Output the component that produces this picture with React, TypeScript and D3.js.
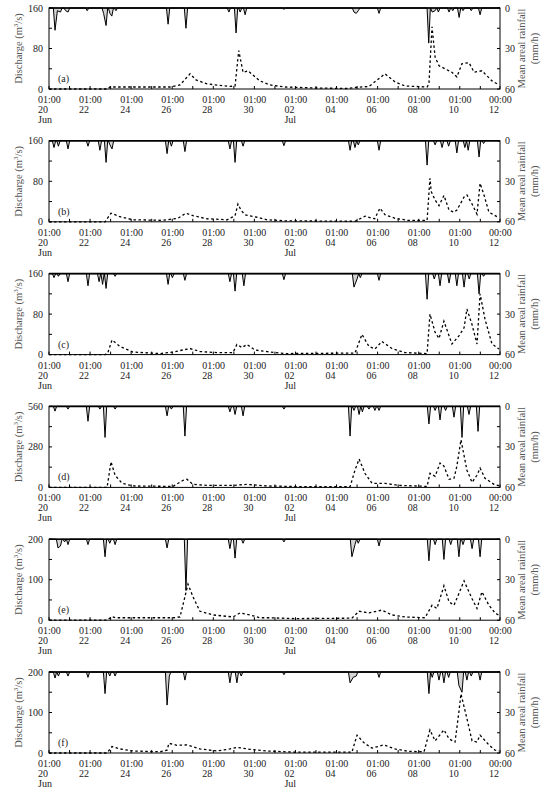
import React from 'react';
import * as d3 from 'd3';

// time in days from 20 Jun 00:00 (01:00 20 Jun = 1/24, 00:00 12 Jul = 22)
const panelLabels = ['(a)', '(b)', '(c)', '(d)', '(e)', '(f)'];
const dischargeMax = [160, 160, 160, 560, 200, 200];
const rainTicks = [0, 15, 30, 45, 60];
const rainTickLabels = [0, 30, 60];

const dayTickLabels = ['20', '22', '24', '26', '28', '30', '02', '04', '06', '08', '10'];
const monthLabels = [{ i: 0, text: 'Jun' }, { i: 6, text: 'Jul' }];

// discharge [day, m3/s]
const dischargeA = [[0.042,0],[2.91,0],[3.01,4],[5.93,4],[6.42,8],[6.91,30],[7.2,18],[7.74,10],[8.86,5],[9.1,6],[9.28,76],[9.49,33],[9.73,36],[10.31,16],[10.8,8],[11.5,4],[13,2],[14.5,1],[14.94,3],[15.62,5],[16.4,30],[16.89,14],[17.37,6],[18.45,4],[18.54,10],[18.69,123],[18.84,63],[19.03,46],[19.66,33],[19.9,24],[20.15,50],[20.49,52],[20.74,33],[21.12,36],[21.61,16],[21.95,8]];
const dischargeB = [[0.042,0],[2.77,0],[3.06,17],[3.5,10],[4.13,4],[5.45,3],[5.79,4],[6.32,7],[6.71,17],[7.05,12],[7.74,6],[8.71,4],[9.1,12],[9.24,35],[9.39,23],[9.58,14],[10.17,9],[10.65,4],[11.5,2],[14.94,1],[15.28,8],[15.43,11],[15.77,7],[15.9,6],[16.16,27],[16.4,14],[16.89,7],[17.5,3],[18.45,3],[18.59,86],[18.65,60],[18.84,43],[19.03,32],[19.27,52],[19.52,23],[19.76,19],[19.9,23],[20.25,49],[20.39,53],[20.64,35],[20.88,15],[21.03,76],[21.22,53],[21.46,19],[21.95,8]];
const dischargeC = [[0.042,0],[2.77,0],[2.9,3],[3.11,29],[3.5,16],[4.13,5],[5.45,2],[6.08,5],[6.42,8],[6.91,12],[7.39,6],[8.22,4],[9.0,4],[9.19,20],[9.44,14],[9.68,20],[10.07,9],[10.65,6],[11.5,2],[14.94,3],[15.28,40],[15.62,16],[15.91,11],[16.25,26],[16.74,12],[17.37,4],[18.45,2],[18.59,80],[18.84,44],[19.03,32],[19.27,66],[19.52,37],[19.66,21],[20.0,37],[20.25,53],[20.39,90],[20.64,59],[20.88,21],[21.03,120],[21.27,70],[21.61,21],[21.95,11]];
const dischargeD = [[0.042,0],[2.87,0],[3.06,177],[3.26,84],[3.6,28],[4.13,10],[6.08,7],[6.57,49],[6.76,56],[7.05,21],[7.74,14],[9.0,14],[9.68,21],[10.65,10],[12,6],[14.7,5],[14.94,119],[15.14,196],[15.43,96],[15.77,28],[16.4,28],[17.08,14],[18.45,7],[18.59,98],[18.84,77],[19.08,168],[19.27,147],[19.52,56],[19.76,63],[19.9,147],[20.1,329],[20.39,119],[20.64,35],[20.88,84],[21.03,133],[21.27,63],[21.71,21],[21.95,12]];
const dischargeE = [[0.042,0],[2.87,0],[3.11,9],[3.3,6],[6.08,6],[6.42,8],[6.66,58],[6.81,89],[7.05,58],[7.39,22],[8.03,13],[9.0,8],[9.34,18],[9.83,13],[10.31,6],[10.8,6],[12,4],[14.79,5],[15.14,22],[15.62,18],[16.25,25],[16.74,13],[17.37,8],[18.35,6],[18.69,37],[18.93,29],[19.27,85],[19.52,45],[19.76,37],[20.0,66],[20.25,97],[20.64,53],[20.88,29],[21.12,70],[21.46,37],[21.76,18],[21.95,12]];
const dischargeF = [[0.042,0],[2.87,0],[3.11,16],[3.5,10],[4.13,5],[5.45,3],[5.79,7],[5.88,24],[6.27,19],[6.76,20],[7.39,10],[8.22,5],[8.85,10],[9.19,14],[9.83,9],[10.65,5],[12,2],[14.79,2],[15.04,44],[15.38,25],[15.77,12],[16.35,20],[16.89,10],[17.57,4],[18.3,3],[18.59,57],[18.84,30],[19.08,45],[19.27,57],[19.52,35],[19.81,27],[20.0,102],[20.1,146],[20.39,85],[20.64,30],[20.88,27],[21.03,44],[21.46,20],[21.76,7],[21.95,5]];

// rainfall peaks [day, mm/h]; zero between them
const rainA = [[0.334,16.5],[0.45,2],[0.6,3],[0.85,2],[0.97,3],[1.9,2],[2.7,4],[2.82,13],[3.01,4],[3.1,6],[3.3,2],[5.84,12],[6.71,15],[8.8,3],[9.15,18.5],[9.35,3],[9.59,5],[11.48,1],[14.89,3],[15.0,4],[15.1,2],[16.11,4],[18.53,26],[18.7,3],[18.84,2],[19.0,3],[19.52,3],[19.7,2],[20.01,7],[20.2,2],[20.6,2],[21.03,5]];
const rainB = [[0.285,5],[0.5,4],[0.967,6],[1.94,4],[2.52,7],[2.82,16],[3.01,3],[3.11,6],[5.79,9.5],[6.0,4],[6.66,8],[8.85,6],[9.1,16],[9.49,4],[11.48,3.6],[14.7,7],[14.94,5],[15.1,3],[16.11,7],[18.45,18],[18.84,3],[19.18,5],[19.5,4],[19.9,9],[20.29,5],[20.45,7],[20.98,12],[21.2,2]];
const rainC = [[0.285,3],[0.5,2],[0.967,6],[1.94,9],[2.48,6],[2.65,8],[2.82,11],[3.26,2],[5.84,8],[6.05,3],[6.66,5],[8.85,6],[9.1,13],[9.53,9],[11.48,4.5],[14.89,10],[15.04,4],[15.2,3],[16.11,5],[18.45,19],[18.8,4],[19.08,9],[19.52,7],[19.9,9],[20.25,10],[20.5,4],[20.98,15],[21.2,2]];
const rainD = [[0.334,3.5],[0.967,2],[1.94,11],[2.52,2],[2.77,23],[3.26,2],[5.79,7],[6.0,2],[6.66,22],[8.85,4],[9.1,6],[9.49,7],[11.48,2],[14.7,22],[14.89,3],[15.14,6],[15.3,4],[15.62,2],[15.91,3],[16.11,3],[18.54,13],[18.84,3],[19.08,10],[19.35,3],[19.76,8],[20.15,23],[20.49,6],[20.93,18.5]];
const rainE = [[0.48,6.5],[0.6,5],[0.8,2],[0.967,4],[1.94,4],[2.77,13],[3.0,3],[3.26,4],[5.79,6.5],[6.71,38],[8.85,7],[9.1,14],[9.49,3],[11.48,2],[14.79,13],[14.94,4],[15.1,3],[16.11,5],[18.54,16],[18.84,4],[19.27,15],[19.6,4],[20.0,13],[20.2,4],[20.64,7],[21.03,13]];
const rainF = [[0.334,4.5],[0.5,3],[0.967,3],[1.94,4],[2.77,16],[3.0,3],[3.26,3],[5.79,24.5],[5.9,3],[6.66,6],[8.85,8],[9.19,8],[9.4,3],[11.48,2],[14.7,8],[14.85,4],[15.0,3],[16.11,4],[18.54,16],[18.7,4],[19.03,6],[19.27,8],[19.5,4],[20.0,10],[20.15,15],[20.39,6],[20.6,3],[21.03,6]];

const dischargeSeries = [dischargeA, dischargeB, dischargeC, dischargeD, dischargeE, dischargeF];
const rainSeries = [rainA, rainB, rainC, rainD, rainE, rainF];

const W = 544;
const H = 789;
const left = 49;
const right = 500;
const panelTop0 = 8;
const panelStep = 132.8;
const panelH = 81;
const font = 'Liberation Serif, Times New Roman, DejaVu Serif, serif';
const half = 0.08;

// spike shape for each rain peak
const rainPath = (events: number[][]) => {
  const pts: number[][] = [[1 / 24, 0]];
  events.forEach((e, i) => {
    const prev = events[i - 1];
    const next = events[i + 1];
    if (!prev || e[0] - prev[0] > 2 * half) pts.push([e[0] - half, 0]);
    pts.push(e);
    if (!next || next[0] - e[0] > 2 * half) pts.push([e[0] + half, 0]);
  });
  pts.push([22, 0]);
  return pts;
};

const x = d3.scaleLinear().domain([1 / 24, 22]).range([left, right]);
const dayTicks = d3.range(0, 22).map(d => d + 1 / 24).concat([22]);

const txt = { fontSize: '10px', fontFamily: font, fill: '#222' };
const title = { fontSize: '10.5px', fontFamily: font, fill: '#555' };

const Panel = ({ i }: { i: number }) => {
  const top = panelTop0 + i * panelStep;
  const bottom = top + panelH;
  const qMax = dischargeMax[i];
  const y = d3.scaleLinear().domain([0, qMax]).range([bottom, top]);
  const r = d3.scaleLinear().domain([0, 60]).range([top, bottom]);
  const qTicks = d3.range(0, 5).map(k => (qMax / 4) * k);

  const qLine = d3.line<number[]>().x(d => x(d[0])).y(d => y(d[1]));
  const rLine = d3.line<number[]>().x(d => x(d[0])).y(d => r(d[1]));
  const rArea = d3.area<number[]>().x(d => x(d[0])).y0(top).y1(d => r(d[1]));
  const rp = rainPath(rainSeries[i]);

  return (
    <g>
      <path d={rArea(rp) || ''} fill="#d4d4d4" />
      <path d={rLine(rp) || ''} fill="none" stroke="#000" strokeWidth={1} />
      <path d={qLine(dischargeSeries[i]) || ''} fill="none" stroke="#000" strokeWidth={1.3} strokeDasharray="2.5,2.5" />
      <rect x={left} y={top} width={right - left} height={panelH} fill="none" stroke="#000" strokeWidth={1} />
      <line x1={left} x2={right} y1={top} y2={top} stroke="#000" strokeWidth={1.6} />

      {qTicks.map((t, k) => (
        <g key={'q' + k}>
          <line x1={left} x2={left + 3} y1={y(t)} y2={y(t)} stroke="#000" />
          {k % 2 === 0 && (
            <text x={left - 6} y={y(t) + 3.5} textAnchor="end" style={txt}>{t}</text>
          )}
        </g>
      ))}
      {rainTicks.map((t, k) => (
        <g key={'r' + k}>
          <line x1={right - 3} x2={right} y1={r(t)} y2={r(t)} stroke="#000" />
          {rainTickLabels.includes(t) && (
            <text x={right + 5} y={r(t) + 3.5} style={txt}>{t}</text>
          )}
        </g>
      ))}
      {dayTicks.map((t, k) => (
        <line key={'d' + k} x1={x(t)} x2={x(t)} y1={bottom} y2={bottom - 3} stroke="#000" />
      ))}
      {dayTickLabels.map((lab, k) => {
        const tx = x(k * 2 + 1 / 24) - 11;
        return (
          <g key={'l' + k}>
            <text x={tx} y={bottom + 14} style={txt}>01:00</text>
            <text x={tx} y={bottom + 24} style={txt}>{lab}</text>
          </g>
        );
      })}
      <text x={x(22) - 11} y={bottom + 14} style={txt}>00:00</text>
      <text x={x(22) - 11} y={bottom + 24} style={txt}>12</text>
      {monthLabels.map(m => (
        <text key={m.text} x={x(m.i * 2 + 1 / 24) - 11} y={bottom + 34} style={txt}>{m.text}</text>
      ))}

      <text x={left + 9} y={bottom - 7} style={txt}>{panelLabels[i]}</text>

      <text transform={`translate(22,${(top + bottom) / 2}) rotate(-90)`} textAnchor="middle" style={title}>
        Discharge (m<tspan style={{ fontSize: '7px' }} dy={-4}>3</tspan><tspan dy={4}>/s)</tspan>
      </text>
      <text transform={`translate(525,${(top + bottom) / 2}) rotate(-90)`} textAnchor="middle" style={title}>
        Mean areal rainfall
      </text>
      <text transform={`translate(538,${(top + bottom) / 2}) rotate(-90)`} textAnchor="middle" style={title}>
        (mm/h)
      </text>
    </g>
  );
};

const App = () => (
  <svg width={W} height={H} viewBox={`0 0 ${W} ${H}`} style={{ position: 'absolute', left: 0, top: 0, background: '#fff' }}>
    {panelLabels.map((_, i) => <Panel key={i} i={i} />)}
  </svg>
);

export default App;
